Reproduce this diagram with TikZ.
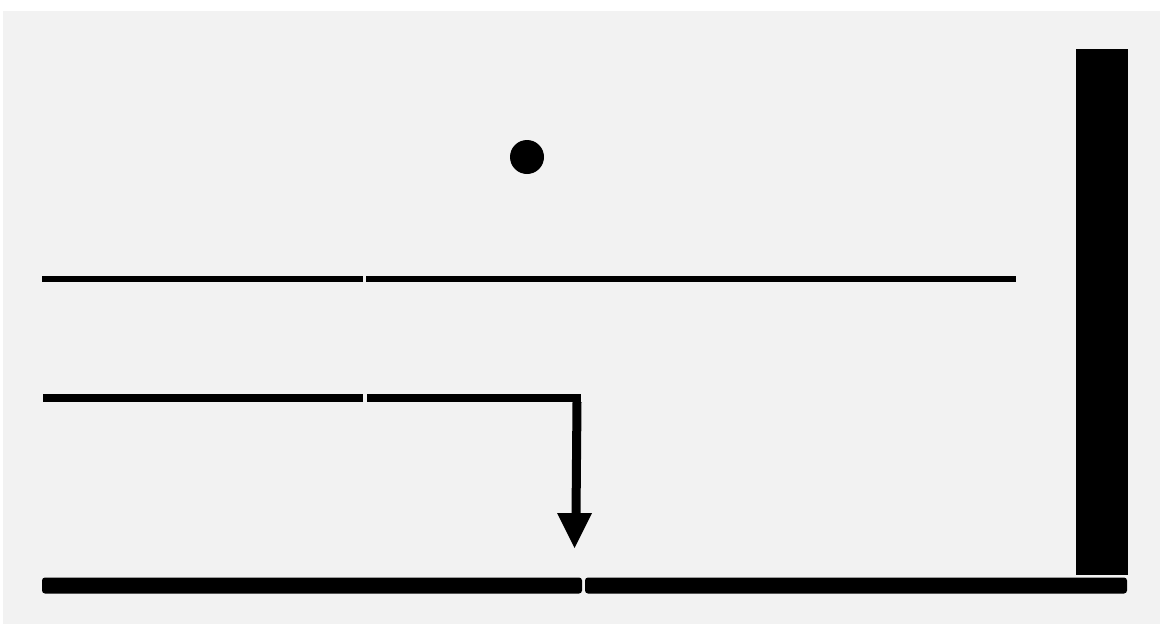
\documentclass[tikz,border=0pt]{standalone}
\usetikzlibrary{arrows.meta}
\definecolor{bg}{HTML}{F2F2F2}
\begin{document}
\begin{tikzpicture}[x=1pt,y=-1pt,
  thinbar/.style={line width=6pt},
  midbar/.style={line width=8pt},
  thickbar/.style={line width=16pt, line cap=round, rounded corners=2pt}]
\useasboundingbox (0,0) rectangle (1160,624);
\fill[white] (0,0) rectangle (1160,624);
\fill[bg] (3,11) rectangle (1160,624);
% dot
\fill (527,157) circle (17);
% top line
\coordinate (a1) at (42,279);
\coordinate (a2) at (363,279);
\coordinate (a3) at (366,279);
\coordinate (a4) at (1016,279);
\draw[thinbar] (a1) -- (a2);
\draw[thinbar] (a3) -- (a4);
% middle line with arrow
\coordinate (b1) at (43,398);
\coordinate (b2) at (363,398);
\coordinate (b3) at (367,398);
\coordinate (b4) at (577,398);
\coordinate (b5) at (576,516);
\draw[midbar] (b1) -- (b2);
\draw[midbar] (b3) -- ([xshift=4pt]b4) ;
\draw[line width=9pt] ([yshift=-4pt]b4) -- (b5);
\fill (557,513) -- (592,513) -- (574.5,548) -- cycle;
% bottom line
\coordinate (c1) at (50,585.5);
\coordinate (c2) at (578,585.5);
\coordinate (c3) at (589,585.5);
\coordinate (c4) at (1119,585.5);
\fill[rounded corners=3pt] (42,577.5) rectangle (582,593.5);
\fill[rounded corners=3pt] (585,577.5) rectangle (1127,593.5);
% vertical bar
\fill (1076,49) rectangle (1128,575);
\end{tikzpicture}
\end{document}
